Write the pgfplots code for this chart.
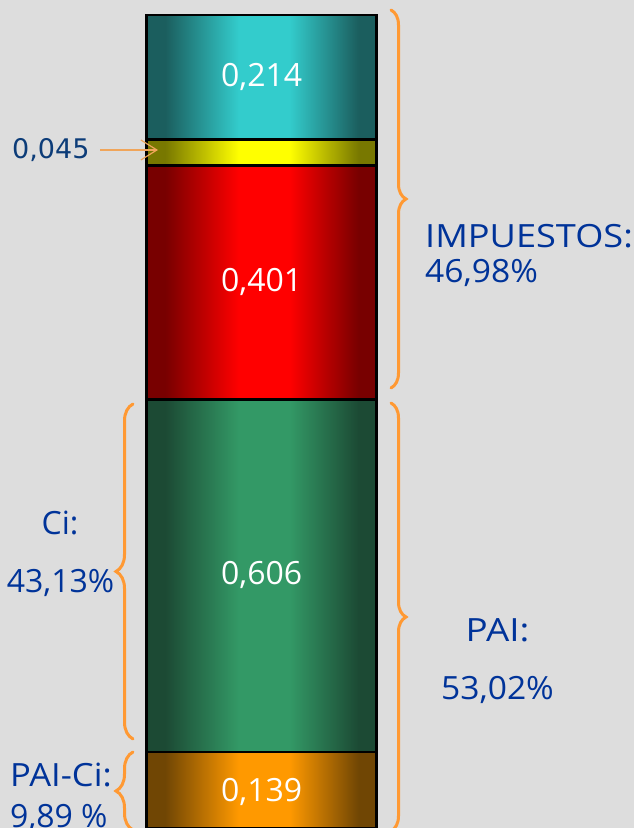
\documentclass[border=0pt]{standalone}
\usepackage{pgfplots}
\pgfplotsset{compat=1.18}
\usepgfplotslibrary{fillbetween}
\usepackage{fontspec}
\setmainfont{Open Sans}
\newfontfamily\dejavu{DejaVu Sans}
\usetikzlibrary{decorations.pathreplacing,arrows.meta}

\definecolor{bg}{RGB}{221,221,221}
\definecolor{lblue}{RGB}{0,51,153}
\definecolor{nblue}{RGB}{12,60,120}
\definecolor{bro}{RGB}{255,153,51}
\definecolor{arr}{RGB}{240,165,90}
\definecolor{tealD}{RGB}{27,94,94}
\definecolor{tealB}{RGB}{51,204,204}
\definecolor{yelD}{RGB}{120,120,0}
\definecolor{yelB}{RGB}{255,255,0}
\definecolor{redD}{RGB}{120,0,0}
\definecolor{redB}{RGB}{255,0,0}
\definecolor{grnD}{RGB}{28,74,52}
\definecolor{grnB}{RGB}{51,153,102}
\definecolor{orD}{RGB}{112,70,4}
\definecolor{orB}{RGB}{255,153,0}

\pgfdeclarehorizontalshading{tealsh}{100bp}{color(0bp)=(tealD); color(29bp)=(tealD); color(45bp)=(tealB); color(56bp)=(tealB); color(71bp)=(tealD); color(100bp)=(tealD)}
\pgfdeclarehorizontalshading{yelsh}{100bp}{color(0bp)=(yelD); color(29bp)=(yelD); color(45bp)=(yelB); color(56bp)=(yelB); color(71bp)=(yelD); color(100bp)=(yelD)}
\pgfdeclarehorizontalshading{redsh}{100bp}{color(0bp)=(redD); color(29bp)=(redD); color(45bp)=(redB); color(56bp)=(redB); color(71bp)=(redD); color(100bp)=(redD)}
\pgfdeclarehorizontalshading{grnsh}{100bp}{color(0bp)=(grnD); color(29bp)=(grnD); color(45bp)=(grnB); color(56bp)=(grnB); color(71bp)=(grnD); color(100bp)=(grnD)}
\pgfdeclarehorizontalshading{orsh}{100bp}{color(0bp)=(orD); color(29bp)=(orD); color(45bp)=(orB); color(56bp)=(orB); color(71bp)=(orD); color(100bp)=(orD)}

\begin{document}
\begin{tikzpicture}
\useasboundingbox (0,0) rectangle (634bp,828bp);
\fill[bg] (0,0) rectangle (634bp,828bp);
\begin{axis}[
  at={(0,0)}, anchor=south west,
  scale only axis, width=634bp, height=828bp,
  xmin=0, xmax=634, ymin=0.00859, ymax=1.43078,
  hide axis, ybar stacked, bar width=230,
]
\addplot[draw=black, line width=2.6bp, shading=orsh] coordinates {(261.7,0.139)};
\addplot[draw=black, line width=2.6bp, shading=grnsh] coordinates {(261.7,0.606)};
\addplot[draw=black, line width=2.6bp, shading=redsh] coordinates {(261.7,0.401)};
\addplot[draw=black, line width=2.6bp, shading=yelsh] coordinates {(261.7,0.045)};
\addplot[draw=black, line width=2.6bp, shading=tealsh] coordinates {(261.7,0.214)};
\end{axis}
\begin{scope}[x=1bp, y=-1bp, shift={(0bp,828bp)}]
\begin{scope}[every node/.style={text=white, font=\fontsize{32bp}{38bp}\selectfont, inner sep=0pt}]
\node at (261.7,792) {0,139};
\node at (261.7,575) {0,606};
\node at (261.7,282) {0,401};
\node at (261.7,77) {0,214};
\end{scope}
\begin{scope}[bro, line width=3bp, line cap=round]
\draw[decorate, decoration={brace, amplitude=15bp}] (391,10) -- (391,388);
\draw[decorate, decoration={brace, amplitude=15bp}] (391,403) -- (391,831);
\draw[decorate, decoration={brace, amplitude=17bp}] (133,739) -- (133,404);
\draw[decorate, decoration={brace, amplitude=17bp}] (133,830) -- (133,752);
\end{scope}
\draw[arr, line width=1.2bp, -{Straight Barb[length=16bp,width=20bp]}] (100,150) -- (158,150);
\begin{scope}[every node/.style={text=lblue, font=\fontsize{32bp}{38bp}\selectfont, inner sep=0pt}]
\node[anchor=base west] at (425,248) {\scalebox{1.13}[1]{IMPUESTOS:}};
\node[anchor=base west] at (425,283) {\scalebox{1.05}[1]{46,98\%}};
\node[anchor=base] at (497.5,642) {\scalebox{1.15}[1]{PAI:}};
\node[anchor=base] at (497.5,700) {\scalebox{1.05}[1]{53,02\%}};
\node[anchor=base] at (60,535) {Ci:};
\node[anchor=base] at (60.5,593) {43,13\%};
\node[anchor=base west] at (10,787) {\scalebox{1.08}[1]{PAI-Ci:}};
\node[anchor=base west] at (10,828) {9,89 \%};
\end{scope}
\node[anchor=base west, inner sep=0pt, text=nblue, font=\dejavu\fontsize{27bp}{32bp}\selectfont] at (12,159) {0,045};
\end{scope}
\end{tikzpicture}
\end{document}
